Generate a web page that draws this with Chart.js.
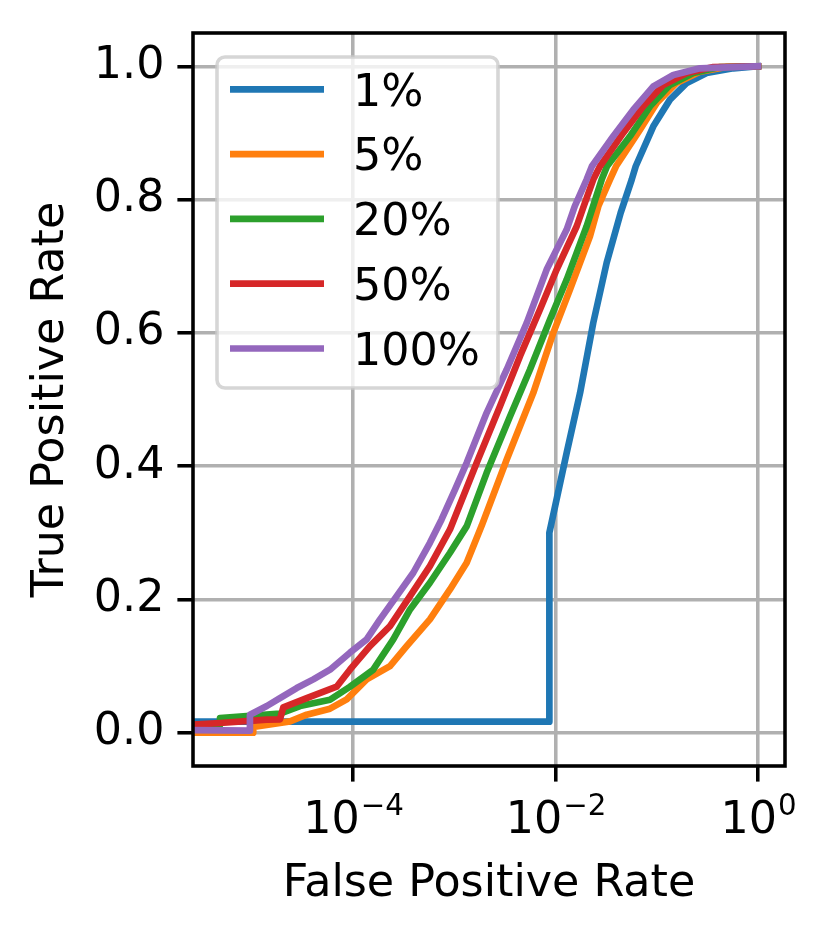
<!DOCTYPE html>
<html>
<head>
<meta charset="utf-8">
<script src="https://cdn.jsdelivr.net/npm/chart.js@4.4.1/dist/chart.umd.min.js"></script>
<style>
  html, body { margin: 0; padding: 0; background: #ffffff; }
  canvas { display: block; }
</style>
</head>
<body>
<canvas id="roc" width="830" height="938"></canvas>
<script>
// ROC curves (false positive rate on a log axis)
const seriesLabels = ['1%', '5%', '20%', '50%', '100%'];
const seriesColors = ['#1f77b4', '#ff7f0e', '#2ca02c', '#d62728', '#9467bd'];

const fpr1 = [2.5e-6, 8.7e-3, 8.7e-3, 1.29e-2, 1.75e-2, 2.36e-2, 3.2e-2, 4.4e-2, 5.66e-2, 6.2e-2, 9.25e-2, 0.135, 0.198, 0.311, 0.57, 1];
const tpr1 = [0.0165, 0.0165, 0.30, 0.42, 0.51, 0.615, 0.705, 0.78, 0.83, 0.85, 0.91, 0.95, 0.975, 0.99, 0.997, 1];

const fpr5 = [2.5e-6, 1.035e-5, 1.035e-5, 2.39e-5, 3.49e-5, 5.93e-5, 8.67e-5, 1.365e-4, 2.32e-4, 3.39e-4, 5.75e-4, 9.08e-4, 1.327e-3, 1.86e-3, 3.3e-3, 6.04e-3, 9.51e-3, 1.39e-2, 2.19e-2, 2.65e-2, 3.45e-2, 3.96e-2, 6.84e-2, 0.1, 0.157, 0.267, 0.491, 1];
const tpr5 = [0.0, 0.0, 0.0085, 0.017, 0.027, 0.036, 0.05, 0.08, 0.10, 0.13, 0.17, 0.215, 0.255, 0.31, 0.41, 0.51, 0.60, 0.665, 0.745, 0.79, 0.83, 0.85, 0.905, 0.945, 0.975, 0.992, 0.999, 1];

const fpr20 = [2.5e-6, 4.86e-6, 4.86e-6, 1.9e-5, 3.0e-5, 5.93e-5, 9.33e-5, 1.585e-4, 2.5e-4, 3.66e-4, 5.75e-4, 9.08e-4, 1.33e-3, 2.09e-3, 3.56e-3, 5.6e-3, 8.83e-3, 1.29e-2, 2.03e-2, 2.86e-2, 3.23e-2, 5.44e-2, 8.58e-2, 0.135, 0.23, 0.421, 1];
const tpr20 = [0.012, 0.012, 0.022, 0.0285, 0.04, 0.0495, 0.069, 0.0945, 0.14, 0.185, 0.225, 0.27, 0.31, 0.39, 0.475, 0.545, 0.62, 0.68, 0.76, 0.83, 0.85, 0.895, 0.94, 0.972, 0.99, 0.999, 1];

const fpr50 = [2.5e-6, 4.86e-6, 1.41e-5, 1.9e-5, 2.05e-5, 3.49e-5, 6.9e-5, 9.33e-5, 1.47e-4, 2.32e-4, 3.66e-4, 5.75e-4, 9.08e-4, 1.667e-3, 2.83e-3, 4.46e-3, 7.03e-3, 1.027e-2, 1.62e-2, 1.9e-2, 2.36e-2, 2.75e-2, 4.67e-2, 7.36e-2, 0.116, 0.198, 0.362, 1];
const tpr50 = [0.012, 0.0145, 0.0195, 0.02, 0.038, 0.052, 0.069, 0.0945, 0.13, 0.16, 0.205, 0.25, 0.305, 0.405, 0.49, 0.565, 0.635, 0.695, 0.76, 0.79, 0.83, 0.85, 0.90, 0.94, 0.972, 0.99, 0.999, 1];

const fpr100 = [2.5e-6, 9.6e-6, 9.6e-6, 1.41e-5, 1.9e-5, 2.78e-5, 4.06e-5, 5.93e-5, 9.33e-5, 1.365e-4, 1.85e-4, 2.7e-4, 3.94e-4, 5.75e-4, 7.5e-4, 1.02e-3, 1.327e-3, 2.09e-3, 3.3e-3, 5.2e-3, 8.18e-3, 1.29e-2, 1.55e-2, 2.03e-2, 2.29e-2, 3.72e-2, 5.87e-2, 9.25e-2, 0.146, 0.267, 1];
const tpr100 = [0.004, 0.003, 0.027, 0.04, 0.052, 0.067, 0.08, 0.0945, 0.12, 0.14, 0.17, 0.205, 0.24, 0.285, 0.32, 0.365, 0.405, 0.48, 0.545, 0.615, 0.695, 0.755, 0.79, 0.83, 0.85, 0.895, 0.935, 0.97, 0.987, 0.997, 1];

const xTicks = [1e-4, 1e-2, 1];
const xTickExponents = ['\u22124', '\u22122', '0'];
const yTicks = [0, 0.2, 0.4, 0.6, 0.8, 1.0];

const FONT = '"DejaVu Sans", "Liberation Sans", sans-serif';
const FS = 44.4;
const LW = 6.67;     // 1.5pt line
const THIN = 3.56;   // 0.8pt spines / grid

const allFpr = [fpr1, fpr5, fpr20, fpr50, fpr100];
const allTpr = [tpr1, tpr5, tpr20, tpr50, tpr100];

const datasets = seriesLabels.map((label, i) => ({
    label: label,
    data: allFpr[i].map((x, j) => ({ x: x, y: allTpr[i][j] })),
    borderColor: seriesColors[i],
    backgroundColor: seriesColors[i],
    borderWidth: LW,
    borderJoinStyle: 'round',
    borderCapStyle: 'square',
    pointRadius: 0,
    tension: 0,
    fill: false,
    clip: 0,
    order: seriesLabels.length - i   // later series on top, like matplotlib
}));

// spines, x tick labels with superscripts, and the in-axes legend
const decorations = {
    id: 'decorations',
    afterDraw(chart) {
        const ctx = chart.ctx;
        const area = chart.chartArea;
        const xs = chart.scales.x;

        ctx.save();
        ctx.strokeStyle = '#000000';
        ctx.lineWidth = THIN;
        ctx.strokeRect(area.left, area.top, area.right - area.left, area.bottom - area.top);

        // x tick labels: 10 with exponent
        ctx.fillStyle = '#000000';
        ctx.textBaseline = 'alphabetic';
        ctx.textAlign = 'left';
        const supSize = FS * 0.66;
        xTicks.forEach((v, i) => {
            const px = xs.getPixelForValue(v);
            ctx.font = FS + 'px ' + FONT;
            const wBase = ctx.measureText('10').width;
            ctx.font = supSize + 'px ' + FONT;
            const wExp = ctx.measureText(xTickExponents[i]).width;
            const x0 = px - (wBase + wExp) / 2;
            ctx.font = FS + 'px ' + FONT;
            ctx.fillText('10', x0, area.bottom + 67);
            ctx.font = supSize + 'px ' + FONT;
            ctx.fillText(xTickExponents[i], x0 + wBase + 1, area.bottom + 49);
        });

        // legend
        const lx = 217, ly = 57, lw = 281, lh = 331;
        ctx.beginPath();
        ctx.roundRect(lx, ly, lw, lh, 8);
        ctx.fillStyle = 'rgba(255,255,255,0.8)';
        ctx.fill();
        ctx.strokeStyle = 'rgba(204,204,204,0.8)';
        ctx.lineWidth = THIN;
        ctx.stroke();

        ctx.font = FS + 'px ' + FONT;
        seriesLabels.forEach((label, i) => {
            const rowY = 89.3 + i * 64.8;
            ctx.beginPath();
            ctx.moveTo(230, rowY);
            ctx.lineTo(324, rowY);
            ctx.strokeStyle = seriesColors[i];
            ctx.lineWidth = LW;
            ctx.lineCap = 'butt';
            ctx.stroke();
            ctx.fillStyle = '#000000';
            ctx.fillText(label, 353, rowY + 16.2);
        });
        ctx.restore();
    }
};

const gridStyle = {
    color: '#b0b0b0',
    lineWidth: THIN,
    tickColor: '#000000',
    tickWidth: THIN,
    tickLength: 15.6
};

new Chart(document.getElementById('roc').getContext('2d'), {
    type: 'line',
    data: { datasets: datasets },
    options: {
        responsive: false,
        animation: false,
        events: [],
        devicePixelRatio: 1,
        layout: { padding: { left: 0, right: 45, top: 33, bottom: 0 } },
        plugins: {
            legend: { display: false },
            tooltip: { enabled: false }
        },
        scales: {
            x: {
                type: 'logarithmic',
                min: 2.63e-6,
                max: 1.848,
                afterBuildTicks: (scale) => { scale.ticks = xTicks.map(v => ({ value: v })); },
                afterFit: (scale) => {
                    scale.height = 172;
                    scale.paddingLeft = 0;
                    scale.paddingRight = 0;
                },
                ticks: {
                    autoSkip: false,
                    maxRotation: 0,
                    callback: () => '',
                    font: { family: FONT, size: FS }
                },
                grid: gridStyle,
                border: { display: false },
                title: {
                    display: true,
                    text: 'False Positive Rate',
                    color: '#000000',
                    font: { family: FONT, size: FS },
                    padding: { top: 0, bottom: 27 }
                }
            },
            y: {
                type: 'linear',
                min: -0.05,
                max: 1.05,
                afterBuildTicks: (scale) => { scale.ticks = yTicks.map(v => ({ value: v })); },
                afterFit: (scale) => {
                    scale.width = 193;
                    scale.paddingTop = 0;
                    scale.paddingBottom = 0;
                },
                ticks: {
                    autoSkip: false,
                    padding: 13,
                    color: '#000000',
                    callback: (v) => Number(v).toFixed(1),
                    font: { family: FONT, size: FS }
                },
                grid: gridStyle,
                border: { display: false },
                title: {
                    display: true,
                    text: 'True Positive Rate',
                    color: '#000000',
                    font: { family: FONT, size: FS },
                    padding: { top: 25, bottom: 0 }
                }
            }
        }
    },
    plugins: [decorations]
});
</script>
</body>
</html>
